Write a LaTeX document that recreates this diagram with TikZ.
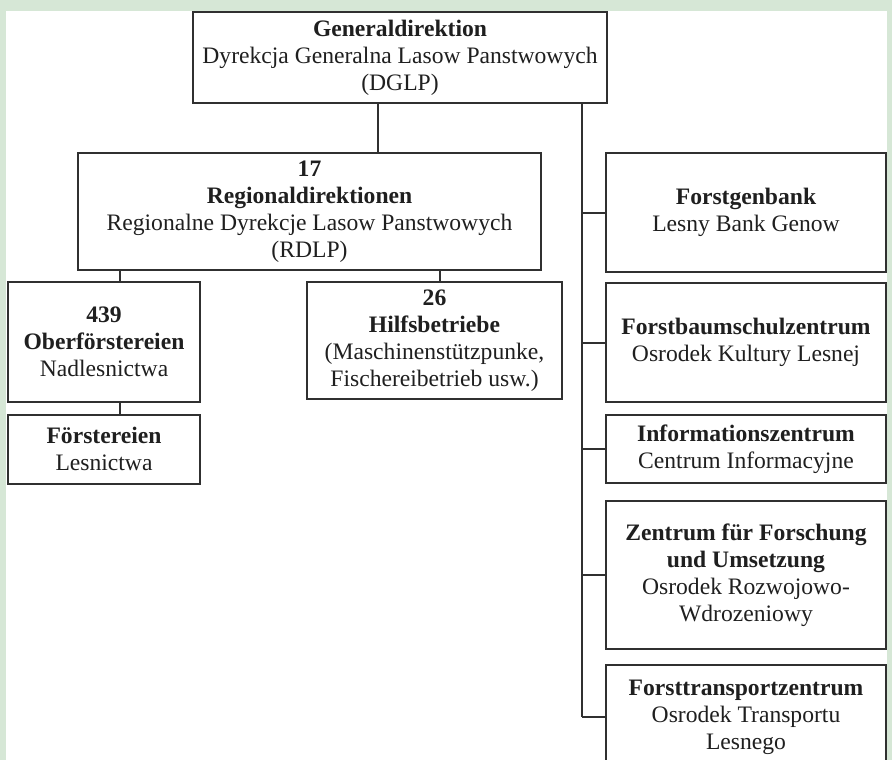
\documentclass[tikz,border=0pt]{standalone}
\usepackage{fontspec}
\setmainfont{Liberation Serif}
\usepackage{tikz}

\definecolor{pageGreen}{RGB}{214,231,214}
\definecolor{lineGray}{RGB}{48,48,48}

\tikzset{
  orgbox/.style={draw=lineGray, line width=2pt, fill=white, align=center,
    inner sep=0pt, text=black!88, font=\fontsize{23.6}{27}\selectfont},
  link/.style={draw=lineGray, line width=2pt}
}

\begin{document}
\begin{tikzpicture}[x=1pt,y=-1pt]
  \useasboundingbox (0,0) rectangle (892,760);
  \clip (0,0) rectangle (892,760);
  % page
  \fill[pageGreen] (0,0) rectangle (892,760);
  \fill[white] (6,11) rectangle (887,760);

  % Head office
  \node[orgbox, minimum width=414, minimum height=91] (dglp) at (400,57.5)
    {\textbf{Generaldirektion}\\Dyrekcja Generalna Lasow Panstwowych\\(DGLP)};

  % Regional level
  \node[orgbox, minimum width=463, minimum height=117] (rdlp) at (309.5,211.5)
    {\textbf{17}\\\textbf{Regionaldirektionen}\\Regionalne Dyrekcje Lasow Panstwowych\\(RDLP)};
  \node[orgbox, minimum width=192, minimum height=120] (ober) at (104,342)
    {\textbf{439}\\\textbf{Oberförstereien}\\Nadlesnictwa};
  \node[orgbox, minimum width=192, minimum height=69] (foerst) at (104,449)
    {\textbf{Förstereien}\\Lesnictwa};
  \node[orgbox, minimum width=255, minimum height=117] (hilf) at (434.5,340.5)
    {\textbf{26}\\\textbf{Hilfsbetriebe}\\(Maschinenstützpunke,\\Fischereibetrieb usw.)};

  % Central units
  \node[orgbox, minimum width=280, minimum height=119] (genbank) at (746,212.5)
    {\textbf{Forstgenbank}\\Lesny Bank Genow};
  \node[orgbox, minimum width=280, minimum height=119] (baumschul) at (746,342.5)
    {\textbf{Forstbaumschulzentrum}\\Osrodek Kultury Lesnej};
  \node[orgbox, minimum width=280, minimum height=68] (info) at (746,449)
    {\textbf{Informationszentrum}\\Centrum Informacyjne};
  \node[orgbox, minimum width=280, minimum height=148] (forschung) at (746,575)
    {\textbf{Zentrum für Forschung}\\\textbf{und Umsetzung}\\Osrodek Rozwojowo-\\Wdrozeniowy};
  \node[orgbox, minimum width=280, minimum height=104] (transport) at (746,717)
    {\textbf{Forsttransportzentrum}\\Osrodek Transportu\\Lesnego};

  % Connectors
  \coordinate (xdg) at (378,0);
  \coordinate (xober) at (120,0);
  \coordinate (xhilf) at (440,0);
  \coordinate (trunk) at (582,0);
  \draw[link] (dglp.south -| xdg) -- (rdlp.north -| xdg);
  \draw[link] (rdlp.south -| xober) -- (ober.north -| xober);
  \draw[link] (ober.south -| xober) -- (foerst.north -| xober);
  \draw[link] (rdlp.south -| xhilf) -- (hilf.north -| xhilf);
  \draw[link] (dglp.south -| trunk) -- (trunk |- transport.west);
  \foreach \unit in {genbank,baumschul,info,forschung,transport}
    \draw[link] (trunk |- \unit.west) -- (\unit.west);
\end{tikzpicture}
\end{document}
